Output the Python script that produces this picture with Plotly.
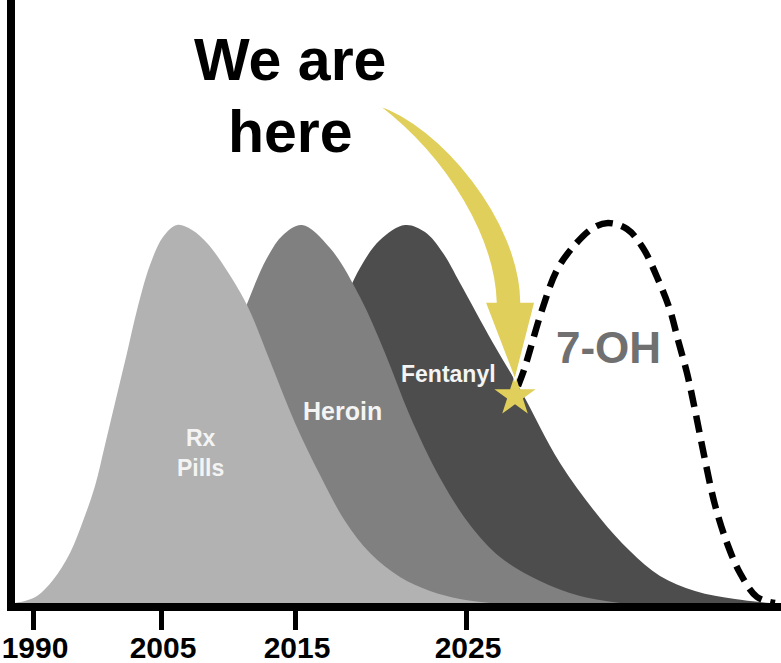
import plotly.graph_objects as go

# ---- data (timeline position units, height units) ----
tick_positions = [33, 161, 295, 466]
tick_labels = ["1990", "2005", "2015", "2025"]

rx_x = [15, 25, 37, 53, 70, 83, 95, 105, 115, 127, 137, 150, 163, 177,
        192, 207, 222, 247, 270, 295, 320, 345, 370, 400, 430, 460, 490]
rx_y = [0, 2, 7, 23, 50, 82, 117, 158, 200, 250, 293, 338, 366, 378,
        373, 360, 340, 298, 242, 180, 128, 82, 50, 26, 12, 4, 0]

heroin_x = [15, 100, 150, 200, 225, 247, 267, 283, 302, 330, 360, 385, 410, 440, 470, 500, 540, 580, 620]
heroin_y = [0, 15, 61, 166, 237, 299, 345, 368, 378, 355, 306, 250, 187, 125, 78, 46, 22, 7, 0]

fent_x = [15, 150, 200, 250, 300, 340, 360, 380, 405, 425, 443, 460, 493, 520, 560, 600, 630, 660, 695, 735, 770]
fent_y = [0, 6, 27, 85, 191, 291, 335, 363, 378, 371, 350, 320, 260, 214, 140, 85, 52, 27, 12, 4, 0]

oh_x = [518, 524, 530, 542, 557, 573, 593, 608, 627, 643, 657, 670, 678, 687, 695, 705, 715, 727, 740, 757, 775]
oh_y = [217, 233, 253, 293, 333, 356, 375, 380, 374, 355, 326, 293, 263, 230, 193, 143, 98, 60, 30, 6, 0]

here_x = [515]
here_y = [207]

YELLOW = "#E0CF5A"
BOLD = "Liberation Sans, Arial, sans-serif"

fig = go.Figure()
fig.add_trace(go.Scatter(x=fent_x, y=fent_y, mode="lines", line=dict(width=0, shape="spline"),
                         fill="tozeroy", fillcolor="#4D4D4D", hoverinfo="skip"))
fig.add_trace(go.Scatter(x=heroin_x, y=heroin_y, mode="lines", line=dict(width=0, shape="spline"),
                         fill="tozeroy", fillcolor="#808080", hoverinfo="skip"))
fig.add_trace(go.Scatter(x=rx_x, y=rx_y, mode="lines", line=dict(width=0, shape="spline"),
                         fill="tozeroy", fillcolor="#B1B2B1", hoverinfo="skip"))
fig.add_trace(go.Scatter(x=oh_x, y=oh_y, mode="lines",
                         line=dict(width=6.5, color="black", dash="17px,9px", shape="spline"),
                         hoverinfo="skip"))

# curved "we are here" arrow
fig.add_shape(type="path", xref="x", yref="y",
              path="M 378,498 C 440,478 520,383 521,301 L 535,301 L 515,223 L 485,301 L 496,301 "
                   "C 494,363 450,443 378,498 Z",
              fillcolor=YELLOW, line=dict(color="white", width=1.5), layer="above")

fig.add_trace(go.Scatter(x=here_x, y=here_y, mode="markers",
                         marker=dict(symbol="star", size=31, color=YELLOW, line=dict(width=0)),
                         hoverinfo="skip"))

def label(text, x, y, size, color):
    fig.add_annotation(x=x, y=y, xref="x", yref="y", text=text, showarrow=False,
                       xanchor="center", yanchor="middle",
                       font=dict(family=BOLD, size=size, color=color, weight="bold"))

label("We are", 290, 543, 59, "black")
label("here", 290, 471, 59, "black")
label("Rx<br>Pills", 200, 150, 23, "#F4F4F4")
label("Heroin", 342, 192, 25, "#F4F4F4")
label("Fentanyl", 448, 229, 23, "#F4F4F4")
label("7-OH", 608, 256, 44, "#707070")

fig.update_layout(
    width=781, height=663,
    margin=dict(l=15, r=0, t=0, b=60, autoexpand=False),
    paper_bgcolor="white", plot_bgcolor="white",
    showlegend=False,
    xaxis=dict(range=[15, 781], showgrid=False, zeroline=False, automargin=False,
               showline=True, linewidth=8, linecolor="black",
               ticks="outside", ticklen=19, tickwidth=5, tickcolor="black",
               tickvals=tick_positions, ticktext=tick_labels,
               ticklabeloverflow="allow", ticklabelstandoff=-8, ticklabelshift=2,
               tickfont=dict(family=BOLD, size=30, color="black", weight="bold")),
    yaxis=dict(range=[0, 603], showgrid=False, zeroline=False, automargin=False,
               showline=True, linewidth=8, linecolor="black",
               showticklabels=False, ticks=""),
)

fig.write_html("out.html", config={"displayModeBar": False},
               post_script="document.body.style.margin='0';document.body.style.overflow='hidden';")
